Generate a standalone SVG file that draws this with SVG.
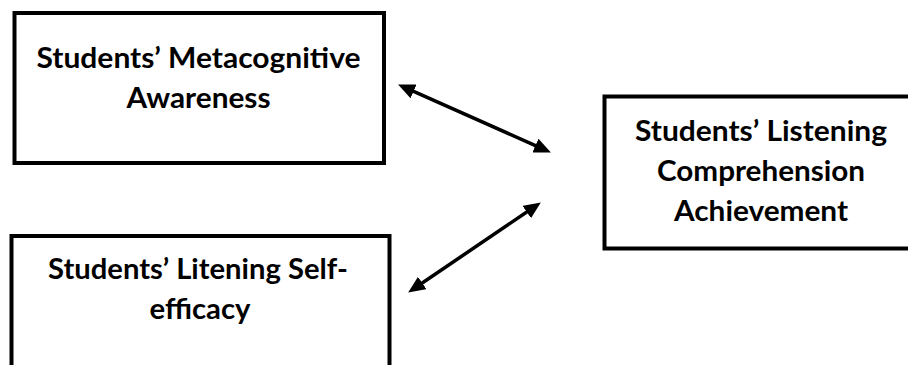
<svg xmlns="http://www.w3.org/2000/svg" width="908" height="365" viewBox="0 0 908 365">
  <style>
    .box { fill: #ffffff; stroke: #000000; stroke-width: 4; }
    .lbl { font-family: Lato, "Open Sans", "Liberation Sans", sans-serif; font-weight: bold; font-size: 29px; fill: #000000; text-anchor: middle; }
    .conn { stroke: #000000; stroke-width: 3.5; fill: none; marker-start: url(#ah); marker-end: url(#ah); }
  </style>
  <defs>
    <marker id="ah" markerUnits="userSpaceOnUse" markerWidth="17" markerHeight="15" refX="8" refY="7.5" orient="auto-start-reverse" viewBox="0 0 17 15">
      <path d="M0,0 L17,7.5 L0,15 z" fill="#000000"/>
    </marker>
  </defs>
  <rect width="908" height="365" fill="#ffffff"/>

  <g id="node-metacognitive">
    <rect class="box" x="14.5" y="13" width="369.5" height="150"/>
    <text class="lbl" x="198.5" y="68" textLength="324" lengthAdjust="spacingAndGlyphs">Students’ Metacognitive</text>
    <text class="lbl" x="198.5" y="108" textLength="144" lengthAdjust="spacingAndGlyphs">Awareness</text>
  </g>

  <g id="node-selfefficacy">
    <rect class="box" x="11.5" y="236" width="378" height="200"/>
    <text class="lbl" x="198" y="279" textLength="300" lengthAdjust="spacingAndGlyphs">Students’ Litening Self-</text>
    <text class="lbl" x="200" y="319" textLength="101" lengthAdjust="spacingAndGlyphs">efficacy</text>
  </g>

  <g id="node-achievement">
    <rect class="box" x="604.5" y="96.5" width="330" height="152"/>
    <text class="lbl" x="761" y="141" textLength="252" lengthAdjust="spacingAndGlyphs">Students’ Listening</text>
    <text class="lbl" x="761" y="181" textLength="208" lengthAdjust="spacingAndGlyphs">Comprehension</text>
    <text class="lbl" x="761" y="221" textLength="174" lengthAdjust="spacingAndGlyphs">Achievement</text>
  </g>

  <g id="connectors">
    <line class="conn" x1="406.3" y1="88.2" x2="542.7" y2="148.8"/>
    <line class="conn" x1="415.6" y1="287.5" x2="533.4" y2="207.5"/>
  </g>
</svg>
